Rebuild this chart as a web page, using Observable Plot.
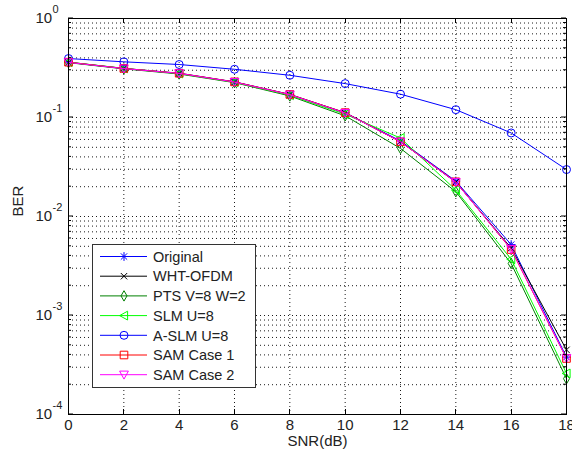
<!DOCTYPE html>
<html><head><meta charset="utf-8">
<script src="https://cdn.jsdelivr.net/npm/d3@7"></script>
<script src="https://cdn.jsdelivr.net/npm/@observablehq/plot@0.6"></script>
<style>
body{margin:0;background:#fff;}
#chart{width:572px;height:457px;}
</style>
</head><body><div id="chart"></div>
<script>
const snr = [0, 2, 4, 6, 8, 10, 12, 14, 16, 18];
const original = [0.362, 0.313, 0.28, 0.229, 0.171, 0.112, 0.058, 0.0228, 0.0052, 0.00038];
const whtOfdm  = [0.36, 0.312, 0.278, 0.228, 0.17, 0.111, 0.057, 0.0222, 0.0048, 0.00045];
const ptsV8W2  = [0.358, 0.31, 0.275, 0.225, 0.165, 0.104, 0.0487, 0.0178, 0.00335, 0.00023];
const slmU8    = [0.362, 0.314, 0.278, 0.227, 0.168, 0.108, 0.062, 0.0185, 0.0037, 0.00026];
const aslmU8   = [0.394, 0.365, 0.343, 0.307, 0.267, 0.22, 0.172, 0.12, 0.0698, 0.0298];
const samCase1 = [0.362, 0.313, 0.28, 0.229, 0.171, 0.112, 0.0568, 0.0224, 0.00464, 0.000368];
const samCase2 = [0.36, 0.312, 0.279, 0.228, 0.17, 0.111, 0.057, 0.0222, 0.0047, 0.00037];

const seriesNames = ["Original", "WHT-OFDM", "PTS V=8 W=2", "SLM U=8", "A-SLM U=8", "SAM Case 1", "SAM Case 2"];
const seriesValues = [original, whtOfdm, ptsV8W2, slmU8, aslmU8, samCase1, samCase2];
const seriesColors = ["#0000ff", "#000000", "#008000", "#00ff00", "#0000ff", "#ff0000", "#ff00ff"];

const xTicks = [0, 2, 4, 6, 8, 10, 12, 14, 16, 18];
const xTickLabels = ["0", "2", "4", "6", "8", "10", "12", "14", "16", "18"];
const yMajor = [1e-4, 1e-3, 1e-2, 1e-1, 1];
const yExponents = ["-4", "-3", "-2", "-1", "0"];
const yMinor = [];
for (let k = 0; k < yMajor.length - 1; k++) for (let m = 2; m <= 9; m++) yMinor.push(m * yMajor[k]);

// MATLAB-like marker shapes
const R = s => Math.sqrt(s / Math.PI);
const symStar = {draw(c, s){const r = R(s)*1.1, d = r*0.72; c.moveTo(-r,0);c.lineTo(r,0);c.moveTo(0,-r);c.lineTo(0,r);c.moveTo(-d,-d);c.lineTo(d,d);c.moveTo(-d,d);c.lineTo(d,-d);}};
const symTimes = {draw(c, s){const d = R(s)*0.8; c.moveTo(-d,-d);c.lineTo(d,d);c.moveTo(-d,d);c.lineTo(d,-d);}};
const symDiamond = {draw(c, s){const r = R(s); c.moveTo(0,-r*1.3);c.lineTo(r*0.75,0);c.lineTo(0,r*1.3);c.lineTo(-r*0.75,0);c.closePath();}};
const symTriLeft = {draw(c, s){const r = R(s); c.moveTo(-r*1.1,0);c.lineTo(r*0.9,-r*1.1);c.lineTo(r*0.9,r*1.1);c.closePath();}};
const symCircle = {draw(c, s){const r = R(s); c.moveTo(r,0);c.arc(0,0,r,0,2*Math.PI);c.closePath();}};
const symSquare = {draw(c, s){const r = R(s)*0.95; c.rect(-r,-r,2*r,2*r);}};
const symTriDown = {draw(c, s){const r = R(s); c.moveTo(-r*1.1,-r*0.9);c.lineTo(r*1.1,-r*0.9);c.lineTo(0,r*1.1);c.closePath();}};
const seriesSymbols = [symStar, symTimes, symDiamond, symTriLeft, symCircle, symSquare, symTriDown];

const rows = [];
seriesNames.forEach((name, i) => snr.forEach((x, j) => rows.push({series: name, snr: x, ber: seriesValues[i][j]})));

const font = "Liberation Sans, Arial, sans-serif";
const dotted = {stroke: "#000", strokeDasharray: "1,3", strokeWidth: 1, strokeOpacity: 0.9};

const marks = [
  Plot.ruleX(xTicks, {x: d => d, ...dotted}),
  Plot.ruleY(yMinor, {y: d => d, ...dotted}),
  Plot.ruleY(yMajor, {y: d => d, ...dotted}),
];
seriesNames.forEach((name, i) => {
  const data = rows.filter(r => r.series === name);
  marks.push(Plot.line(data, {x: "snr", y: "ber", stroke: seriesColors[i], strokeWidth: 1}));
  marks.push(Plot.dot(data, {x: "snr", y: "ber", symbol: seriesSymbols[i], r: 4, fill: "none", stroke: seriesColors[i], strokeWidth: 1}));
});
marks.push(
  Plot.frame({stroke: "#000", strokeWidth: 1}),
  Plot.axisX(xTicks, {tickSize: 0, tickPadding: 5, tickFormat: (d, i) => xTickLabels[i], fontSize: 15, fontFamily: font, fill: "#222", label: null}),
  Plot.text(yMajor, {y: d => d, frameAnchor: "left", text: () => "10", textAnchor: "start", dx: -33, fontSize: 15, fontFamily: font, fill: "#222"}),
  Plot.text(yMajor, {y: d => d, frameAnchor: "left", text: (d, i) => yExponents[i], textAnchor: "start", dx: -16, dy: -9, fontSize: 11, fontFamily: font, fill: "#222"}),
  Plot.text(["SNR(dB)"], {frameAnchor: "bottom", text: d => d, dy: 31, fontSize: 15, fontFamily: font, fill: "#222"}),
  Plot.text(["BER"], {frameAnchor: "left", text: d => d, rotate: -90, dx: -50, fontSize: 15, fontFamily: font, fill: "#222"})
);

const chart = Plot.plot({
  width: 572,
  height: 457,
  marginLeft: 68,
  marginRight: 6,
  marginTop: 18,
  marginBottom: 43,
  style: {background: "#fff", fontFamily: font, overflow: "visible"},
  x: {domain: [0, 18], axis: null},
  y: {type: "log", domain: [1e-4, 1], axis: null},
  marks
});

// inner tick marks (MATLAB box style) using plot scales
const sx = chart.scale("x"), sy = chart.scale("y");
const svg = d3.select(chart);
const tg = svg.append("g").attr("stroke", "#000").attr("stroke-width", 1);
const yTop = sy.apply(1), yBottom = sy.apply(1e-4), xLeft = sx.apply(0), xRight = sx.apply(18);
xTicks.forEach(v => {
  const x = Math.round(sx.apply(v)) + 0.5;
  tg.append("line").attr("x1", x).attr("x2", x).attr("y1", yBottom).attr("y2", yBottom - 5);
  tg.append("line").attr("x1", x).attr("x2", x).attr("y1", yTop).attr("y2", yTop + 5);
});
yMajor.forEach(v => {
  const y = sy.apply(v);
  tg.append("line").attr("x1", xLeft).attr("x2", xLeft + 5).attr("y1", y).attr("y2", y);
  tg.append("line").attr("x1", xRight).attr("x2", xRight - 5).attr("y1", y).attr("y2", y);
});
yMinor.forEach(v => {
  const y = sy.apply(v);
  tg.append("line").attr("x1", xLeft).attr("x2", xLeft + 3).attr("y1", y).attr("y2", y);
  tg.append("line").attr("x1", xRight).attr("x2", xRight - 3).attr("y1", y).attr("y2", y);
});

// legend inside the axes (lower left)
const lg = svg.append("g").attr("font-family", font).attr("font-size", 14.5).attr("text-anchor", "start");
lg.append("rect").attr("x", 92.5).attr("y", 244.5).attr("width", 163).attr("height", 143)
  .attr("fill", "#fff").attr("stroke", "#333");
seriesNames.forEach((name, i) => {
  const cy = 256.5 + i * 19.7;
  lg.append("line").attr("x1", 100).attr("x2", 147).attr("y1", cy).attr("y2", cy).attr("stroke", seriesColors[i]);
  lg.append("path").attr("d", d3.symbol(seriesSymbols[i], 16 * Math.PI)())
    .attr("transform", `translate(124,${cy})`).attr("fill", "none").attr("stroke", seriesColors[i]);
  lg.append("text").attr("x", 153).attr("y", cy).attr("dy", "0.36em").attr("text-anchor", "start").attr("fill", "#222").text(name);
});

document.getElementById("chart").appendChild(chart);
</script>
</body></html>
